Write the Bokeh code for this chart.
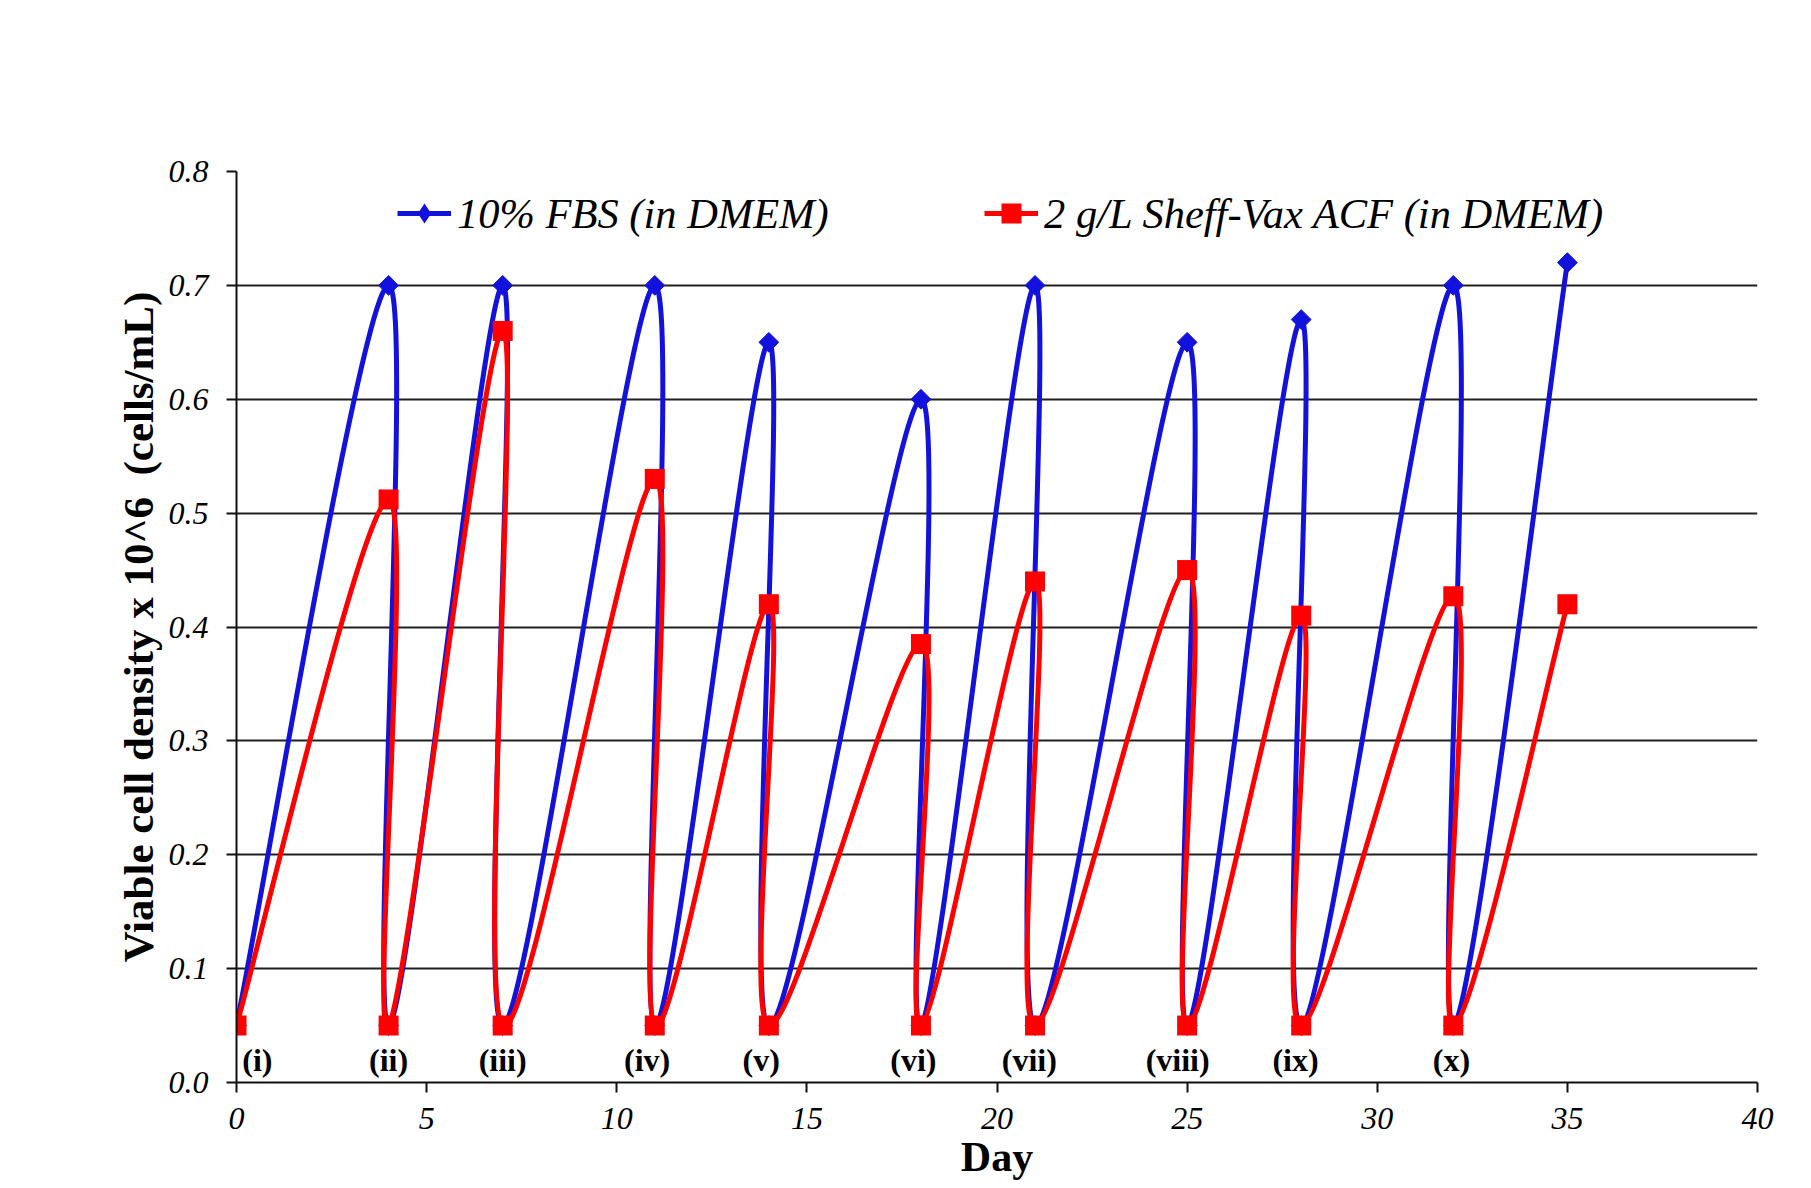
import numpy as np
from bokeh.plotting import figure
from bokeh.models import (ColumnDataSource, Legend, LegendItem, FixedTicker,
                          PrintfTickFormatter, Range1d, CDSView, IndexFilter)
from bokeh.core.properties import value
from bokeh.embed import file_html
from bokeh.resources import INLINE

# ---- data ----
days = [0, 4, 4, 7, 7, 11, 11, 14, 14, 18, 18, 21, 21, 25, 25, 28, 28, 32, 32, 35]
fbs = [0.05, 0.70, 0.05, 0.70, 0.05, 0.70, 0.05, 0.65, 0.05, 0.60,
       0.05, 0.70, 0.05, 0.65, 0.05, 0.67, 0.05, 0.70, 0.05, 0.72]
acf = [0.05, 0.512, 0.05, 0.66, 0.05, 0.53, 0.05, 0.42, 0.05, 0.385,
       0.05, 0.44, 0.05, 0.45, 0.05, 0.41, 0.05, 0.427, 0.05, 0.42]
passage_labels = ["(i)", "(ii)", "(iii)", "(iv)", "(v)", "(vi)", "(vii)", "(viii)", "(ix)", "(x)"]
passage_days = [0.55, 4.0, 7.0, 10.8, 13.8, 17.8, 20.85, 24.75, 27.85, 31.95]
passage_y = [0.0195] * len(passage_labels)
x_ticks = [0, 5, 10, 15, 20, 25, 30, 35, 40]
y_ticks = [0.0, 0.1, 0.2, 0.3, 0.4, 0.5, 0.6, 0.7, 0.8]

BLUE = "#1212DC"
RED = "#FF0000"
SERIF = "Liberation Serif"


def smooth_segments(xs, ys):
    """Catmull-Rom style (spreadsheet 'smoothed line') Bezier control points."""
    x = np.asarray(xs, float)
    y = np.asarray(ys, float)
    n = len(x)
    xp = np.concatenate([[x[0]], x, [x[-1]]])
    yp = np.concatenate([[y[0]], y, [y[-1]]])
    i = np.arange(n - 1)
    cx0 = x[i] + (xp[i + 2] - xp[i]) / 6.0
    cy0 = y[i] + (yp[i + 2] - yp[i]) / 6.0
    cx1 = x[i + 1] - (xp[i + 3] - xp[i + 1]) / 6.0
    cy1 = y[i + 1] - (yp[i + 3] - yp[i + 1]) / 6.0
    return dict(x0=x[:-1], y0=y[:-1], x1=x[1:], y1=y[1:],
                cx0=cx0, cy0=cy0, cx1=cx1, cy1=cy1)


p = figure(width=1811, height=1188, output_backend="svg", toolbar_location=None,
           x_range=Range1d(0, 40), y_range=Range1d(0, 0.8),
           min_border_left=236, min_border_right=54, min_border_top=171,
           min_border_bottom=106)
p.outline_line_color = None
p.background_fill_color = "white"

# grid
p.xgrid.grid_line_color = None
p.ygrid.grid_line_color = "#202020"
p.ygrid.grid_line_width = 2
p.ygrid.ticker = FixedTicker(ticks=y_ticks)

# axes
p.xaxis.ticker = FixedTicker(ticks=x_ticks)
p.yaxis.ticker = FixedTicker(ticks=y_ticks)
p.yaxis.formatter = PrintfTickFormatter(format="%.1f")
for ax in (p.xaxis[0], p.yaxis[0]):
    ax.axis_line_color = "#101010"
    ax.axis_line_width = 2
    ax.major_tick_line_color = "#101010"
    ax.major_tick_line_width = 2
    ax.major_tick_out = 10
    ax.major_tick_in = 0
    ax.minor_tick_line_color = None
    ax.major_label_text_font = SERIF
    ax.major_label_text_font_style = "italic"
    ax.major_label_text_font_size = "32px"
    ax.major_label_text_color = "black"
    ax.axis_label_text_font = SERIF
    ax.axis_label_text_font_style = "bold"
    ax.axis_label_text_font_size = "43px"
    ax.axis_label_text_color = "black"
p.xaxis.axis_label = "Day"
p.xaxis.axis_label_text_font_size = "42px"
p.yaxis.axis_label = "Viable cell density x 10^6\u00a0 (cells/mL)"
p.xaxis.major_label_standoff = 15
p.xaxis.axis_label_standoff = 2
p.yaxis.major_label_standoff = 18
p.yaxis.axis_label_standoff = 4

# series
src_b = ColumnDataSource(smooth_segments(days, fbs))
src_r = ColumnDataSource(smooth_segments(days, acf))
pts_b = ColumnDataSource(dict(x=days, y=fbs))
pts_r = ColumnDataSource(dict(x=days, y=acf))

b_line = p.bezier(x0="x0", y0="y0", x1="x1", y1="y1", cx0="cx0", cy0="cy0",
                  cx1="cx1", cy1="cy1", source=src_b, line_color=BLUE, line_width=5)
b_pts = p.scatter("x", "y", source=pts_b, marker="square", size=14, angle=np.pi / 4,
                  fill_color=BLUE, line_color=BLUE, line_width=1)
# legend key marker (legend glyphs are never rotated, so use a diamond key);
# it only shows the first point, which the red square at the same spot covers
b_key = p.scatter("x", "y", source=pts_b, view=CDSView(filter=IndexFilter(indices=[0])),
                  marker="diamond", size=20, fill_color=BLUE, line_color=BLUE, line_width=0)
r_line = p.bezier(x0="x0", y0="y0", x1="x1", y1="y1", cx0="cx0", cy0="cy0",
                  cx1="cx1", cy1="cy1", source=src_r, line_color=RED, line_width=5)
r_pts = p.scatter("x", "y", source=pts_r, marker="square", size=20,
                  fill_color=RED, line_color=RED, line_width=0)

# passage labels
p.text(x=passage_days, y=passage_y, text=passage_labels, text_align="center",
       text_baseline="middle", text_font=value(SERIF), text_font_style="bold",
       text_font_size="32px", text_color="black")

# legends
common = dict(orientation="horizontal", padding=0, margin=0, spacing=0,
              label_standoff=6, label_text_font=SERIF, label_text_font_style="italic",
              label_text_font_size="42.5px", label_text_color="black",
              border_line_alpha=0, background_fill_alpha=0,
              glyph_width=54, glyph_height=50, label_height=50)
leg1 = Legend(items=[LegendItem(label="10% FBS (in DMEM)", renderers=[b_line, b_key])],
              location=(161, 844), **common)
leg2 = Legend(items=[LegendItem(label="2 g/L Sheff-Vax ACF (in DMEM)", renderers=[r_line, r_pts])],
              location=(748, 844), **common)
p.add_layout(leg1)
p.add_layout(leg2)

open("out.html", "w").write(file_html(p, INLINE))
